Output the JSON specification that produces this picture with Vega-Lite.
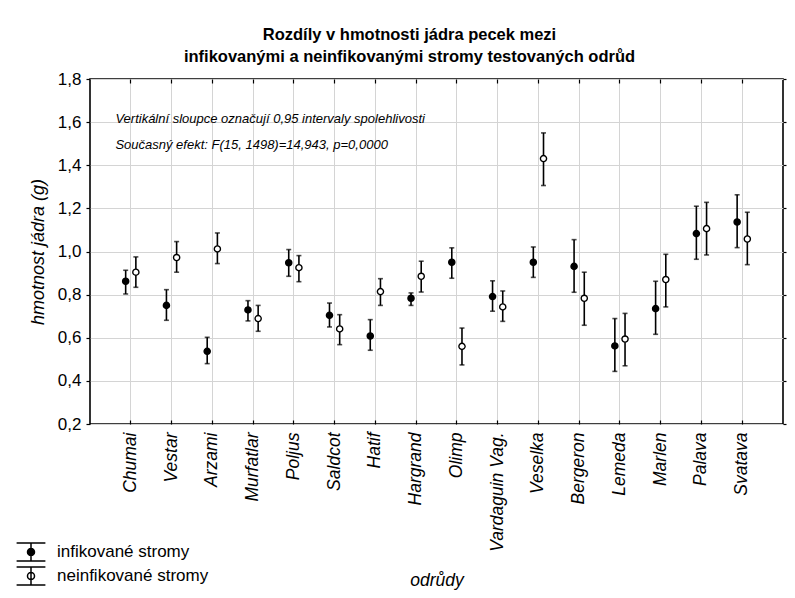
{
  "$schema": "https://vega.github.io/schema/vega-lite/v6.json",
  "autosize": {"type": "none"},
  "width": 693,
  "height": 345,
  "padding": {"left": 90, "top": 79, "right": 12, "bottom": 174},
  "background": "white",
  "title": {
    "text": ["Rozdíly v  hmotnosti jádra pecek mezi", "infikovanými a neinfikovanými stromy testovaných odrůd"],
    "font": "Liberation Sans",
    "fontSize": 16.5,
    "fontWeight": "bold",
    "color": "black",
    "lineHeight": 22,
    "anchor": "middle",
    "dx": -27,
    "offset": 5
  },
  "data": {
    "values": [
      {"odruda": "Chumai", "skupina": "infikované stromy", "prumer": 0.862, "dolni": 0.803, "horni": 0.913},
      {"odruda": "Chumai", "skupina": "neinfikované stromy", "prumer": 0.904, "dolni": 0.834, "horni": 0.975},
      {"odruda": "Vestar", "skupina": "infikované stromy", "prumer": 0.750, "dolni": 0.681, "horni": 0.823},
      {"odruda": "Vestar", "skupina": "neinfikované stromy", "prumer": 0.972, "dolni": 0.904, "horni": 1.046},
      {"odruda": "Arzami", "skupina": "infikované stromy", "prumer": 0.537, "dolni": 0.480, "horni": 0.602},
      {"odruda": "Arzami", "skupina": "neinfikované stromy", "prumer": 1.012, "dolni": 0.944, "horni": 1.086},
      {"odruda": "Murfatlar", "skupina": "infikované stromy", "prumer": 0.729, "dolni": 0.678, "horni": 0.772},
      {"odruda": "Murfatlar", "skupina": "neinfikované stromy", "prumer": 0.689, "dolni": 0.630, "horni": 0.750},
      {"odruda": "Poljus", "skupina": "infikované stromy", "prumer": 0.948, "dolni": 0.885, "horni": 1.009},
      {"odruda": "Poljus", "skupina": "neinfikované stromy", "prumer": 0.925, "dolni": 0.860, "horni": 0.981},
      {"odruda": "Saldcot", "skupina": "infikované stromy", "prumer": 0.704, "dolni": 0.650, "horni": 0.761},
      {"odruda": "Saldcot", "skupina": "neinfikované stromy", "prumer": 0.641, "dolni": 0.568, "horni": 0.707},
      {"odruda": "Hatif", "skupina": "infikované stromy", "prumer": 0.608, "dolni": 0.542, "horni": 0.684},
      {"odruda": "Hatif", "skupina": "neinfikované stromy", "prumer": 0.814, "dolni": 0.750, "horni": 0.874},
      {"odruda": "Hargrand", "skupina": "infikované stromy", "prumer": 0.783, "dolni": 0.750, "horni": 0.808},
      {"odruda": "Hargrand", "skupina": "neinfikované stromy", "prumer": 0.885, "dolni": 0.812, "horni": 0.955},
      {"odruda": "Olimp", "skupina": "infikované stromy", "prumer": 0.950, "dolni": 0.876, "horni": 1.017},
      {"odruda": "Olimp", "skupina": "neinfikované stromy", "prumer": 0.560, "dolni": 0.474, "horni": 0.645},
      {"odruda": "Vardaguin Vag.", "skupina": "infikované stromy", "prumer": 0.791, "dolni": 0.723, "horni": 0.864},
      {"odruda": "Vardaguin Vag.", "skupina": "neinfikované stromy", "prumer": 0.743, "dolni": 0.676, "horni": 0.817},
      {"odruda": "Veselka", "skupina": "infikované stromy", "prumer": 0.950, "dolni": 0.880, "horni": 1.021},
      {"odruda": "Veselka", "skupina": "neinfikované stromy", "prumer": 1.431, "dolni": 1.306, "horni": 1.550},
      {"odruda": "Bergeron", "skupina": "infikované stromy", "prumer": 0.931, "dolni": 0.811, "horni": 1.055},
      {"odruda": "Bergeron", "skupina": "neinfikované stromy", "prumer": 0.783, "dolni": 0.658, "horni": 0.904},
      {"odruda": "Lemeda", "skupina": "infikované stromy", "prumer": 0.562, "dolni": 0.444, "horni": 0.689},
      {"odruda": "Lemeda", "skupina": "neinfikované stromy", "prumer": 0.594, "dolni": 0.470, "horni": 0.713},
      {"odruda": "Marlen", "skupina": "infikované stromy", "prumer": 0.735, "dolni": 0.616, "horni": 0.862},
      {"odruda": "Marlen", "skupina": "neinfikované stromy", "prumer": 0.870, "dolni": 0.743, "horni": 0.987},
      {"odruda": "Palava", "skupina": "infikované stromy", "prumer": 1.083, "dolni": 0.964, "horni": 1.210},
      {"odruda": "Palava", "skupina": "neinfikované stromy", "prumer": 1.106, "dolni": 0.984, "horni": 1.228},
      {"odruda": "Svatava", "skupina": "infikované stromy", "prumer": 1.137, "dolni": 1.018, "horni": 1.263},
      {"odruda": "Svatava", "skupina": "neinfikované stromy", "prumer": 1.058, "dolni": 0.939, "horni": 1.182}
    ]
  },
  "encoding": {
    "x": {
      "field": "odruda",
      "type": "nominal",
      "sort": null,
      "scale": {"type": "band", "paddingInner": 0, "paddingOuter": 0.5}
    },
    "xOffset": {
      "field": "skupina",
      "type": "nominal",
      "scale": {"domain": ["infikované stromy", "neinfikované stromy"], "paddingInner": 0, "paddingOuter": 2}
    }
  },
  "layer": [
    {
      "mark": {"type": "rule", "color": "black", "strokeWidth": 1.6},
      "encoding": {
        "x": {
          "field": "odruda",
          "type": "nominal",
          "sort": null,
          "axis": {
            "orient": "bottom",
            "bandPosition": 0.5,
            "domain": false,
            "grid": true,
            "gridColor": "#d4d4d4",
            "gridWidth": 1,
            "gridOpacity": 1,
            "ticks": true,
            "tickColor": "black",
            "tickSize": -4,
            "tickWidth": 1.2,
            "labelAngle": -90,
            "labelAlign": "right",
            "labelBaseline": "middle",
            "labelPadding": 12,
            "labelFont": "Liberation Sans",
            "labelFontSize": 17.5,
            "labelFontStyle": "italic",
            "labelColor": "black",
            "title": "odrůdy",
            "titleFont": "Liberation Sans",
            "titleFontSize": 17.5,
            "titleFontStyle": "italic",
            "titleFontWeight": "normal",
            "titleColor": "black",
            "titleBaseline": "middle",
            "titleY": 156
          }
        },
        "y": {
          "field": "dolni",
          "type": "quantitative",
          "scale": {"domain": [0.2, 1.8], "nice": false, "zero": false},
          "axis": {
            "orient": "left",
            "values": [0.2, 0.4, 0.6, 0.8, 1.0, 1.2, 1.4, 1.6, 1.8],
            "format": ".1f",
            "domain": false,
            "grid": true,
            "gridColor": "#d4d4d4",
            "gridWidth": 1,
            "gridOpacity": 1,
            "tickColor": "black",
            "tickSize": 4,
            "tickWidth": 1.2,
            "labelPadding": 5,
            "labelFont": "Liberation Sans",
            "labelFontSize": 17,
            "labelColor": "black",
            "title": "hmotnost jádra (g)",
            "titleFont": "Liberation Sans",
            "titleFontSize": 18,
            "titleFontStyle": "italic",
            "titleFontWeight": "normal",
            "titleColor": "black",
            "titleAngle": -90,
            "titleAlign": "center",
            "titleBaseline": "middle",
            "titleX": -52,
            "titleY": 172.5
          }
        },
        "y2": {"field": "horni"}
      }
    },
    {
      "mark": {"type": "tick", "color": "black", "size": 5, "thickness": 1.6},
      "encoding": {
        "x": {
          "field": "odruda",
          "type": "nominal",
          "sort": null,
          "axis": {
            "orient": "top",
            "bandPosition": 0.5,
            "domain": false,
            "grid": true,
            "gridColor": "#d4d4d4",
            "gridWidth": 1,
            "gridOpacity": 1,
            "labels": false,
            "title": null,
            "tickColor": "black",
            "tickSize": -4,
            "tickWidth": 1.2
          }
        },
        "y": {
          "field": "dolni",
          "type": "quantitative",
          "axis": {
            "orient": "right",
            "values": [0.2, 0.4, 0.6, 0.8, 1.0, 1.2, 1.4, 1.6, 1.8],
            "domain": false,
            "grid": true,
            "gridColor": "#d4d4d4",
            "gridWidth": 1,
            "gridOpacity": 1,
            "labels": false,
            "title": null,
            "tickColor": "black",
            "tickSize": 3,
            "tickWidth": 1.2
          }
        }
      }
    },
    {
      "mark": {"type": "tick", "color": "black", "size": 5, "thickness": 1.6},
      "encoding": {
        "x": {"field": "odruda", "type": "nominal", "sort": null, "axis": null},
        "y": {"field": "horni", "type": "quantitative", "axis": null}
      }
    },
    {
      "mark": {"type": "point", "shape": "circle", "filled": true, "size": 38, "stroke": "black", "strokeWidth": 1.4, "opacity": 1},
      "encoding": {
        "x": {"field": "odruda", "type": "nominal", "sort": null, "axis": null},
        "y": {"field": "prumer", "type": "quantitative", "axis": null},
        "fill": {
          "field": "skupina",
          "type": "nominal",
          "scale": {"domain": ["infikované stromy", "neinfikované stromy"], "range": ["black", "white"]},
          "legend": {
            "title": null,
            "orient": "none",
            "legendX": -69,
            "legendY": 463,
            "padding": 0,
            "symbolType": "M-1.6,-1H1.6M-1.6,1H1.6M0,-1V1M0.39,0A0.39,0.39,0,1,1,-0.39,0A0.39,0.39,0,1,1,0.39,0Z",
            "symbolSize": 324,
            "symbolStrokeColor": "black",
            "symbolStrokeWidth": 1.5,
            "symbolOpacity": 1,
            "labelFont": "Liberation Sans",
            "labelFontSize": 17,
            "labelColor": "black",
            "labelOffset": 16,
            "rowPadding": 0,
            "encode": {
              "symbols": {
                "update": {
                  "shape": {"value": "M-1.6,-1H1.6M-1.6,1H1.6M0,-1V1M0.39,0A0.39,0.39,0,1,1,-0.39,0A0.39,0.39,0,1,1,0.39,0Z"},
                  "stroke": {"value": "black"},
                  "strokeWidth": {"value": 1.5},
                  "size": {"value": 324},
                  "opacity": {"value": 1}
                }
              }
            }
          }
        }
      }
    },
    {
      "data": {"values": [{"poznamka": "Vertikální sloupce označují 0,95 intervaly spolehlivosti"}]},
      "mark": {"type": "text", "align": "left", "baseline": "middle", "font": "Liberation Sans", "fontSize": 13, "fontStyle": "italic", "color": "black", "dx": 5},
      "encoding": {
        "x": {"datum": "Chumai", "type": "nominal", "bandPosition": 0, "axis": null},
        "xOffset": null,
        "y": {"datum": 1.615, "type": "quantitative", "axis": null},
        "text": {"field": "poznamka"}
      }
    },
    {
      "data": {"values": [{"poznamka": "Současný efekt: F(15, 1498)=14,943, p=0,0000"}]},
      "mark": {"type": "text", "align": "left", "baseline": "middle", "font": "Liberation Sans", "fontSize": 13, "fontStyle": "italic", "color": "black", "dx": 5},
      "encoding": {
        "x": {"datum": "Chumai", "type": "nominal", "bandPosition": 0, "axis": null},
        "xOffset": null,
        "y": {"datum": 1.496, "type": "quantitative", "axis": null},
        "text": {"field": "poznamka"}
      }
    }
  ],
  "resolve": {"axis": {"x": "independent", "y": "independent"}},
  "config": {
    "locale": {"number": {"decimal": ",", "thousands": " ", "grouping": [3], "currency": ["", " Kč"]}},
    "view": {"stroke": "black", "strokeWidth": 1.6}
  }
}
